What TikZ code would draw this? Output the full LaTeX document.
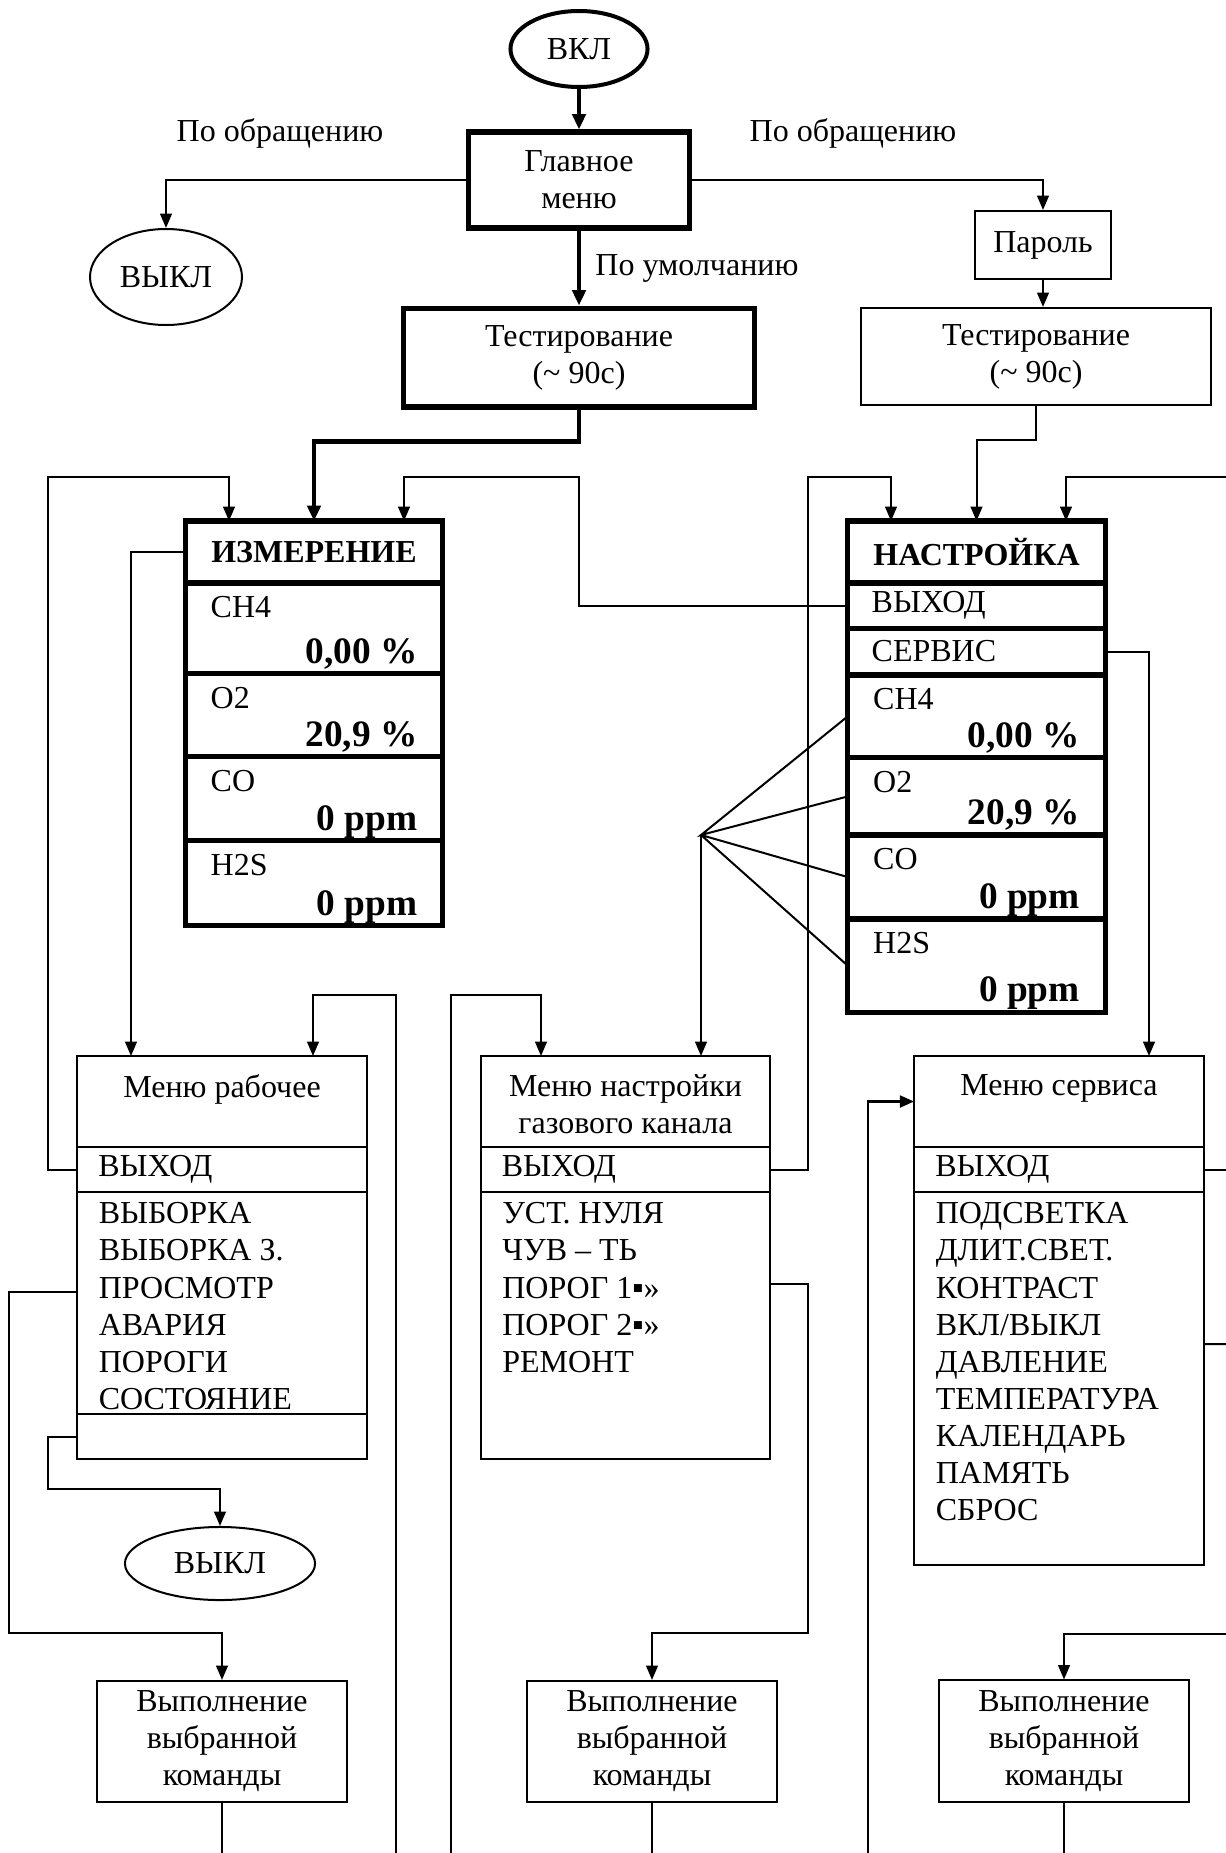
\documentclass[tikz,border=0pt]{standalone}
\usepackage{fontspec}
\setmainfont{Liberation Serif}
\usetikzlibrary{positioning,arrows.meta,calc,shapes.geometric}

\newcommand\basefont{\fontsize{12}{13.9}\selectfont}

\begin{document}
\begin{tikzpicture}[x=0.375pt, y=-0.375pt, font=\basefont,
    thinline/.style={line width=0.75pt},
    boldline/.style={line width=1.9pt},
    flow/.style={thinline, -{Triangle[length=5.4pt, width=4.4pt]}},
    mainflow/.style={line width=1.7pt, -{Triangle[length=5.8pt, width=5pt]}},
    box/.style={draw, thinline, align=center, inner sep=0pt},
    bigbox/.style={draw, boldline, align=center, inner sep=0pt},
    oval/.style={draw, ellipse, inner sep=0pt},
    % cells of the gas tables
    cell/.style={draw, boldline, minimum width=96.7pt, outer sep=0pt, inner sep=0pt},
    cellrow/.style={cell, minimum height=#1, text width=78.6pt, inner xsep=9pt, align=left},
    gasname/.style={anchor=north west, inner sep=0pt, xshift=9.4pt, yshift=-4.8pt},
    gasvalue/.style={anchor=base east, inner sep=0pt, xshift=-9.4pt, yshift=3.8pt,
        font=\fontsize{14}{16}\selectfont\bfseries},
    gascell/.style n args={3}{cell, minimum height=#1,
        label={[gasname]north west:#2}, label={[gasvalue]south east:#3}},
    % cells of the menus
    mcell/.style={draw, thinline, minimum width=108.6pt, outer sep=0pt, inner sep=0pt},
    mrow/.style={mcell, minimum height=16.9pt, text width=92.8pt, inner xsep=7.9pt, align=left},
    mtitle/.style={mcell, minimum height=34.1pt,
        label={[anchor=north, align=center, inner sep=0pt, yshift=-6.8pt]north:#1}},
    mlist/.style 2 args={mcell, minimum height=#1,
        label={[anchor=north west, align=left, inner sep=0pt, xshift=7.9pt, yshift=-3.8pt]north west:#2}},
]
\useasboundingbox (0,0) rectangle (1226,1853);

% Start and main menu
\node[oval, line width=1.5pt, minimum width=51.4pt, minimum height=28.5pt] (vkl) at (579,49) {ВКЛ};
\node[bigbox, minimum width=82.9pt, minimum height=36pt] (mainmenu) at (579,180) {Главное\\меню};
\node (callL) at (280,133) {По обращению};
\node (callR) at (853,133) {По обращению};
\node[oval, thinline, minimum width=57pt, minimum height=36pt] (vykl1) at (166,277) {ВЫКЛ};
\node[box, minimum width=51pt, minimum height=25.5pt] (parol) at (1043,245) {Пароль};
\node[bigbox, minimum width=131.6pt, minimum height=37.1pt] (test1) at (579,357.5) {Тестирование\\(\textasciitilde{} 90с)};
\node[box, minimum width=131.3pt, minimum height=36.4pt] (test2) at (1036,356.5) {Тестирование\\(\textasciitilde{} 90с)};

\draw[mainflow] (vkl) -- (mainmenu);
\draw[mainflow] (mainmenu) -- node[midway, right, xshift=2pt] (dflt) {По умолчанию} (test1);
\draw[flow] (mainmenu.west) -| (vykl1.north);
\draw[flow] (mainmenu.east) -| (parol.north);
\draw[flow] (parol.south) -- (parol.south |- test2.north);

% Measurement table
\node[cell, minimum height=23.25pt, font=\basefont\bfseries] (izm) at (314,552) {ИЗМЕРЕНИЕ};
\node[gascell={34.1pt}{CH4}{0,00 \%}, below=0pt of izm] (izmch4) {};
\node[gascell={31.1pt}{O2}{20,9 \%}, below=0pt of izmch4] (izmo2) {};
\node[gascell={31.5pt}{CO}{0 ppm}, below=0pt of izmo2] (izmco) {};
\node[gascell={31.9pt}{H2S}{0 ppm}, below=0pt of izmco] (izmh2s) {};

% Setup table
\node[cell, minimum height=23.25pt, font=\basefont\bfseries] (nas) at (976.5,552) {НАСТРОЙКА};
\node[cellrow=16.9pt, below=0pt of nas] (nasexit) {ВЫХОД};
\node[cellrow=17.6pt, below=0pt of nasexit] (nasserv) {СЕРВИС};
\node[gascell={31.1pt}{CH4}{0,00 \%}, below=0pt of nasserv] (nasch4) {};
\node[gascell={28.9pt}{O2}{20,9 \%}, below=0pt of nasch4] (naso2) {};
\node[gascell={31.5pt}{CO}{0 ppm}, below=0pt of naso2] (nasco) {};
\node[gascell={34.9pt}{H2S}{0 ppm}, below=0pt of nasco] (nash2s) {};

\draw[mainflow] (test1.south) -- ++(0,32) -| (izm.north);
\draw[flow] (test2.south) -- ++(0,34) -| (nas.north);

% Menus
\node[mtitle={Меню рабочее}] (rabtitle) at (222,1101.5) {};
\node[mrow, below=0pt of rabtitle] (rabexit) {ВЫХОД};
\node[mlist={83.25pt}{ВЫБОРКА\\ВЫБОРКА З.\\ПРОСМОТР\\АВАРИЯ\\ПОРОГИ\\СОСТОЯНИЕ}, below=0pt of rabexit] (rabitems) {};
\node[mcell, minimum height=16.9pt, below=0pt of rabitems] (rabblank) {};

\node[mtitle={Меню настройки\\газового канала}] (gastitle) at (625.5,1101.5) {};
\node[mrow, below=0pt of gastitle] (gasexit) {ВЫХОД};
\node[mlist={100.1pt}{УСТ. НУЛЯ\\ЧУВ – ТЬ\\ПОРОГ 1▪»\\ПОРОГ 2▪»\\РЕМОНТ}, below=0pt of gasexit] (gasitems) {};

\node[mtitle={Меню сервиса}] (servtitle) at (1059,1101.5) {};
\node[mrow, below=0pt of servtitle] (servexit) {ВЫХОД};
\node[mlist={139.9pt}{ПОДСВЕТКА\\ДЛИТ.СВЕТ.\\КОНТРАСТ\\ВКЛ/ВЫКЛ\\ДАВЛЕНИЕ\\ТЕМПЕРАТУРА\\КАЛЕНДАРЬ\\ПАМЯТЬ\\СБРОС}, below=0pt of servexit] (servitems) {};

% Off and command boxes
\node[oval, thinline, minimum width=71.3pt, minimum height=27.4pt] (vykl2) at (220,1563.5) {ВЫКЛ};
\node[box, minimum width=94pt, minimum height=45.4pt] (vyp1) at (222,1741.5) {Выполнение\\выбранной\\команды};
\node[box, minimum width=94pt, minimum height=45.4pt] (vyp2) at (652,1741.5) {Выполнение\\выбранной\\команды};
\node[box, minimum width=94pt, minimum height=45.4pt] (vyp3) at (1064,1741) {Выполнение\\выбранной\\команды};

% Loose ends at the border of the sheet
\coordinate (rabback) at (396,1853);
\coordinate (gasback) at (451,1853);
\coordinate (servback) at (868,1853);
\coordinate (nasback) at (1226,477);
\coordinate (servout) at (1226,1169.5);
\coordinate (servout2) at (1226,1344);
\coordinate (vypback) at (1226,1634);
\coordinate (fan) at (701,835);

% Returns to the tables
\draw[flow] (rabexit.west) -| (48,477) -| ($(izm.north)+(-85,0)$);
\draw[flow] (nasexit.west) -| (579,477) -| ($(izm.north)+(90,0)$);
\draw[flow] (gasexit.east) -| (808,477) -| ($(nas.north)+(-85.5,0)$);
\draw[flow] (nasback) -| ($(nas.north)+(89.5,0)$);

% Into the menus
\draw[flow] (izm.west) -| ($(rabtitle.north)+(-91,0)$);
\draw[flow] (rabback) -- ++(0,-858) -| ($(rabtitle.north)+(91,0)$);
\draw[flow] (gasback) -- ++(0,-858) -| ($(gastitle.north)+(-84.5,0)$);
\draw[thinline] (nasch4.west) -- (fan) -- (naso2.west) (fan) -- (nasco.west) (fan) -- (nash2s.west);
\draw[flow] (fan) -- (fan |- gastitle.north);
\draw[flow] (nasserv.east) -| ($(servtitle.north)+(90,0)$);
\draw[flow, line width=1.1pt] (servback) |- (servtitle.west);

% Out of the menus
\draw[flow] (rabblank.west) -| (48,1489) -| (vykl2.north);
\draw[flow] ($(rabitems.west)+(0,-11)$) -| (9,1633) -| (vyp1.north);
\draw[flow] ($(gasitems.east)+(0,-41.5)$) -| (808,1633) -| (vyp2.north);
\draw[thinline] (servexit.east) -- (servout);
\draw[thinline] ($(servitems.east)+(0,-34.5)$) -- (servout2);
\draw[flow] (vypback) -| (vyp3.north);
\draw[thinline] (vyp1.south) -- ++(0,51);
\draw[thinline] (vyp2.south) -- ++(0,51);
\draw[thinline] (vyp3.south) -- ++(0,52);
\end{tikzpicture}
\end{document}
